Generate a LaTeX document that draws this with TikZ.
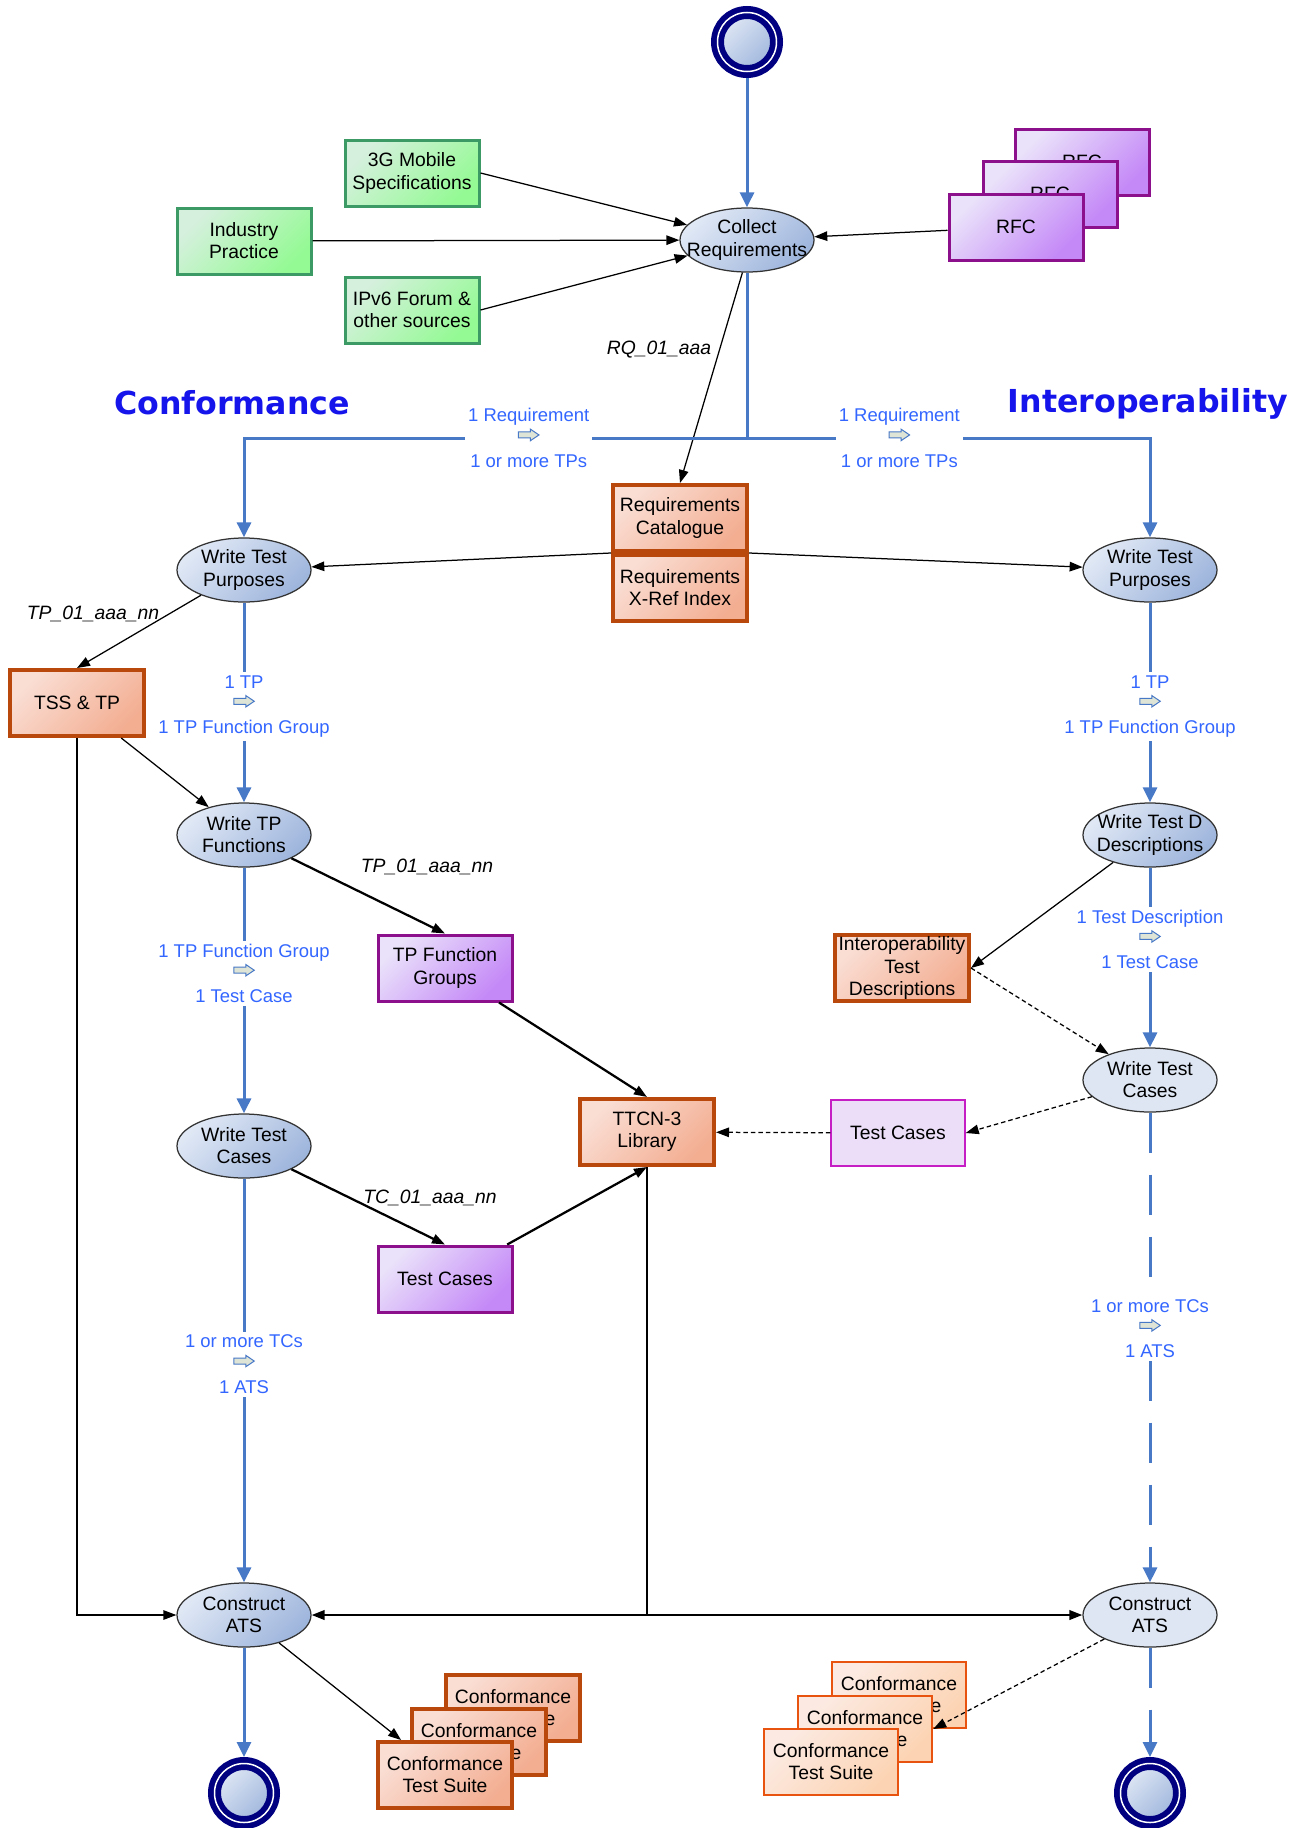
\documentclass[tikz,border=0pt]{standalone}
\usepackage{fontspec}
\setmainfont{Liberation Sans}
\newfontfamily\ttlfont{DejaVu Sans}
\usepackage{tikz}
\usetikzlibrary{arrows.meta,positioning,shapes.geometric}

\definecolor{flowblue}{RGB}{72,121,199}
\definecolor{lblblue}{RGB}{51,102,255}
\definecolor{ttlblue}{RGB}{20,20,235}
\definecolor{actTop}{RGB}{224,232,245}
\definecolor{actBot}{RGB}{158,181,220}
\definecolor{actLt}{RGB}{222,230,243}
\definecolor{ringNavy}{RGB}{0,0,128}
\definecolor{grnLine}{RGB}{60,155,100}
\definecolor{grnTop}{RGB}{214,240,222}
\definecolor{grnBot}{RGB}{148,250,148}
\definecolor{purLine}{RGB}{140,16,140}
\definecolor{purTop}{RGB}{234,226,250}
\definecolor{purBot}{RGB}{196,136,247}
\definecolor{oraLine}{RGB}{184,72,12}
\definecolor{oraTop}{RGB}{250,222,212}
\definecolor{oraBot}{RGB}{243,174,146}
\definecolor{sutLine}{RGB}{232,84,16}
\definecolor{sutTop}{RGB}{252,234,226}
\definecolor{sutBot}{RGB}{252,212,180}
\definecolor{tcLine}{RGB}{196,30,196}
\definecolor{tcFill}{RGB}{236,222,249}
\definecolor{arrFill}{RGB}{222,228,214}

\newcommand{\nto}{\tikz[baseline=-5.5pt]\draw[flowblue, fill=arrFill, line width=0.2mm, line join=miter]
  (-2.05mm,0.6mm) -- (0.35mm,0.6mm) -- (0.35mm,1.15mm) -- (2.05mm,0mm) -- (0.35mm,-1.15mm) -- (0.35mm,-0.6mm) -- (-2.05mm,-0.6mm) -- cycle;}

\begin{document}
\begin{tikzpicture}[x=0.2mm, y=-0.2mm, >={Triangle[length=2.6mm,width=1.9mm]},
  txt/.style={font=\fontsize{11}{12.6}\selectfont, align=center},
  act/.style={txt, ellipse, draw=black!80, line width=0.25mm, minimum width=26.8mm, minimum height=12.8mm, inner xsep=-2.8mm, inner ysep=0pt, top color=actTop, bottom color=actBot, shading angle=45},
  actlt/.style={act, top color=actLt, bottom color=actLt},
  term/.style={circle, inner sep=0pt, minimum size=11.8mm, draw=ringNavy, line width=2.6mm, top color=actTop, bottom color=actBot, shading angle=45, postaction={draw=white, line width=0.3mm}},
  doc/.style={txt, rectangle, minimum width=26.8mm, minimum height=13.2mm, inner sep=0.5mm},
  srcbox/.style={doc, draw=grnLine, line width=0.6mm, top color=grnTop, bottom color=grnBot, shading angle=45},
  purbox/.style={doc, draw=purLine, line width=0.6mm, top color=purTop, bottom color=purBot, shading angle=45},
  orabox/.style={doc, draw=oraLine, line width=0.8mm, top color=oraTop, bottom color=oraBot, shading angle=45},
  suitebox/.style={doc, draw=sutLine, line width=0.5mm, top color=sutTop, bottom color=sutBot, shading angle=45},
  tcbox/.style={doc, draw=tcLine, line width=0.3mm, fill=tcFill},
  ttl/.style={font=\ttlfont\bfseries\fontsize{18}{20}\selectfont, text=ttlblue},
  tag/.style={font=\fontsize{11}{12.6}\selectfont\itshape},
  lbl/.style={txt, font=\fontsize{10.5}{13}\selectfont, text=lblblue, fill=white, inner sep=0.6mm},
  flow/.style={draw=flowblue, line width=0.6mm},
  flowto/.style={flow, -{Triangle[length=3mm,width=2.8mm]}},
  lflowto/.style={flowto, dash pattern=on 8mm off 4.4mm},
  conn/.style={draw=black, line width=0.25mm, ->},
  hconn/.style={draw=black, line width=0.45mm, ->},
  dconn/.style={conn, dash pattern=on 0.9mm off 0.6mm}]
\useasboundingbox (0,0) rectangle (1302,1828);

\node[term] (start) at (747,42) {};
\node[act] (collect) at (747,240) {Collect\\Requirements};
\node[srcbox] (spec) at (412,173) {3G Mobile\\Specifications};
\node[srcbox] (industry) at (244,241) {Industry\\Practice};
\node[srcbox] (forum) at (412,310) {IPv6 Forum \&\\other sources};
\node[purbox] (rfcc) at (1082,162) {RFC};
\node[purbox] (rfcb) at (1050,194) {RFC};
\node[purbox] (rfca) at (1016,227) {RFC};

\node[ttl] (conf) at (232,403) {Conformance};
\node[ttl] (interop) at (1148,404) {Interoperability};

\node[orabox] (reqcat) at (680,518) {Requirements\\Catalogue};
\node[orabox, below=0pt of reqcat] (xref) {Requirements\\X-Ref Index};

\node[act] (tpL) at (244,570) {Write Test\\Purposes};
\node[act] (tpR) at (1150,570) {Write Test\\Purposes};
\node[orabox] (tss) at (77,703) {TSS \& TP};
\node[act] (tpfL) at (244,835) {Write TP\\Functions};
\node[act] (tdR) at (1150,835) {Write Test D\\Descriptions};
\node[purbox] (tpfg) at (445,968) {TP Function\\Groups};
\node[orabox, inner ysep=0pt] (itd) at (902,968) {Interoperability\\Test\\Descriptions};
\node[actlt] (tcR) at (1150,1080) {Write Test\\Cases};
\node[act] (tcL) at (244,1146) {Write Test\\Cases};
\node[orabox] (ttcn) at (647,1132) {TTCN-3\\Library};
\node[tcbox] (tcsR) at (898,1133) {Test Cases};
\node[purbox] (tcsL) at (445,1279) {Test Cases};
\node[act] (atsL) at (244,1615) {Construct\\ATS};
\node[actlt] (atsR) at (1150,1615) {Construct\\ATS};
\node[term] (endL) at (244,1793) {};
\node[term] (endR) at (1150,1793) {};

\node[orabox] (ctsLc) at (513,1708) {Conformance\\Test Suite};
\node[orabox] (ctsLb) at (479,1742) {Conformance\\Test Suite};
\node[orabox] (ctsLa) at (445,1775) {Conformance\\Test Suite};
\node[suitebox] (ctsRc) at (899,1695) {Conformance\\Test Suite};
\node[suitebox] (ctsRb) at (865,1729) {Conformance\\Test Suite};
\node[suitebox] (ctsRa) at (831,1762) {Conformance\\Test Suite};

\draw[flowto] (start) -- (collect);
\draw[conn] (spec.east) -- (collect);
\draw[conn] (industry) -- (collect);
\draw[conn] (forum.east) -- (collect);
\draw[conn] (rfca) -- (collect);
\draw[conn] (collect.262) -- (reqcat.north);
\node[tag] (rq) at (659,350) {RQ\_01\_aaa};
\coordinate (split) at (collect.south |- 0,438);
\draw[flow] (collect) -- (split);
\draw[flowto] (split) -| node[lbl, pos=.217] {1 Requirement\\\nto\\1 or more TPs} (tpL);
\draw[flowto] (split) -| node[lbl, pos=.189] {1 Requirement\\\nto\\1 or more TPs} (tpR);
\draw[conn] (reqcat.south west) -- (tpL);
\draw[conn] (reqcat.south east) -- (tpR);

\draw[conn] (tpL) -- (tss.north);
\node[tag] (tp1) at (93,614) {TP\_01\_aaa\_nn};
\draw[flowto] (tpL) -- node[lbl, pos=.52] {1 TP\\\nto\\1 TP Function Group} (tpfL);
\draw[conn] (tss) -- (tpfL);
\draw[conn] (tss.south) |- (atsL);
\draw[hconn] (tpfL) -- (tpfg.north);
\node[tag] (tp2) at (427,867) {TP\_01\_aaa\_nn};
\draw[flowto] (tpfL) -- node[lbl, pos=.43] {1 TP Function Group\\\nto\\1 Test Case} (tcL);
\draw[hconn] (tpfg) -- (ttcn.north);
\draw[hconn] (tcL) -- (tcsL.north);
\node[tag] (tc1) at (430,1198) {TC\_01\_aaa\_nn};
\draw[hconn] (tcsL) -- (ttcn.south);
\draw[flowto] (tcL) -- node[lbl, pos=.46] {1 or more TCs\\\nto\\1 ATS} (atsL);
\draw[flowto] (atsL) -- (endL);
\draw[conn] (atsL) -- (ctsLa);
\draw[hconn, -] (ttcn.south) -- (ttcn.south |- atsL);
\draw[hconn, <->] (atsL) -- (atsR);

\draw[flowto] (tpR) -- node[lbl, pos=.52] {1 TP\\\nto\\1 TP Function Group} (tdR);
\draw[conn] (tdR) -- (itd.east);
\draw[flowto] (tdR) -- node[lbl, pos=.40] {1 Test Description\\\nto\\1 Test Case} (tcR);
\draw[dconn] (itd.east) -- (tcR);
\draw[dconn] (tcR) -- (tcsR.east);
\draw[dconn] (tcsR) -- (ttcn);
\draw[lflowto] (tcR) -- node[lbl, pos=.46] {1 or more TCs\\\nto\\1 ATS} (atsR);
\draw[lflowto] (atsR) -- (endR);
\draw[dconn] (atsR) -- (ctsRb.east);
\end{tikzpicture}
\end{document}
